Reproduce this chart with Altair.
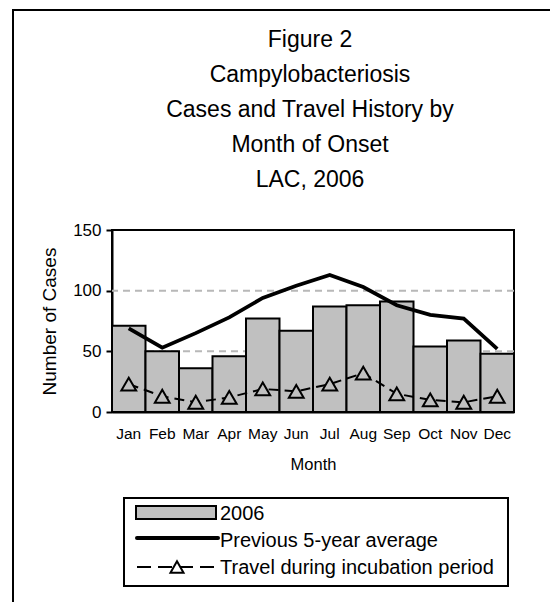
import altair as alt
import pandas as pd

MONTHS = ["Jan", "Feb", "Mar", "Apr", "May", "Jun", "Jul", "Aug", "Sep", "Oct", "Nov", "Dec"]
CASES_2006 = [71, 50, 36, 46, 77, 67, 87, 88, 91, 54, 59, 48]
PREV_5YR_AVG = [69, 53, 65, 78, 94, 104, 113, 103, 88, 80, 77, 52]
TRAVEL = [23, 13, 8, 12, 19, 17, 23, 32, 15, 10, 8, 13]
Y_TICKS = [0, 50, 100, 150]
GRID_VALUES = [50, 100]
TITLE_LINES = ["Figure 2", "Campylobacteriosis", "Cases and Travel History by",
               "Month of Onset", "LAC, 2006"]
LEGEND_LABELS = ["2006", "Previous 5-year average", "Travel during incubation period"]

FONT = "Liberation Sans"
GRAY = "#c0c0c0"

df = pd.DataFrame({"month": MONTHS, "cases": CASES_2006,
                   "avg": PREV_5YR_AVG, "travel": TRAVEL})
grid_df = pd.DataFrame({"v": GRID_VALUES})
one = alt.InlineData(values=[{"k": 0}])

x = alt.X("month:N", sort=MONTHS,
          scale=alt.Scale(paddingInner=0, paddingOuter=0),
          axis=alt.Axis(title="Month", labelAngle=0, ticks=False, tickSize=0,
                        labelPadding=14, titlePadding=15, labelFontSize=15.5,
                        titleFontSize=16.5, titleFontWeight="normal",
                        domainColor="black", domainWidth=2,
                        labelColor="black", titleColor="black"))
y_scale = alt.Scale(domain=[0, 150], nice=False)
y_axis = alt.Axis(title="Number of Cases", values=Y_TICKS, tickSize=6, tickWidth=2,
                  tickColor="black", labelPadding=5, titlePadding=13,
                  labelFontSize=17, titleFontSize=19, titleFontWeight="normal",
                  domainColor="black", domainWidth=2, labelColor="black",
                  titleColor="black", grid=False)

grid = alt.Chart(grid_df).mark_rule(color="#b8b8b8", strokeWidth=2,
                                    strokeDash=[7, 5]).encode(
    y=alt.Y("v:Q", scale=y_scale, axis=y_axis))
bars = alt.Chart(df).mark_bar(fill=GRAY, stroke="black", strokeWidth=2).encode(
    x=x, y=alt.Y("cases:Q", scale=y_scale, axis=y_axis))
avg_line = alt.Chart(df).mark_line(color="black", strokeWidth=3.8).encode(
    x=alt.X("month:N", sort=MONTHS), y=alt.Y("avg:Q"))
travel_line = alt.Chart(df).mark_line(color="black", strokeWidth=2,
                                      strokeDash=[10, 6]).encode(
    x=alt.X("month:N", sort=MONTHS), y=alt.Y("travel:Q"))
travel_pts = alt.Chart(df).mark_point(shape="triangle-up", size=220, filled=True,
                                      fill=GRAY, stroke="black", strokeWidth=2,
                                      opacity=1).encode(
    x=alt.X("month:N", sort=MONTHS), y=alt.Y("travel:Q"))

# outer frame (left and top edges visible)
frame_left = alt.Chart(one).mark_rule(color="black", strokeWidth=2).encode(
    x=alt.value(-99), y=alt.value(-221), y2=alt.value(400))
frame_top = alt.Chart(one).mark_rule(color="black", strokeWidth=2).encode(
    x=alt.value(-100), x2=alt.value(460), y=alt.value(-220))

title = alt.Chart(one).mark_text(font=FONT, fontSize=23, lineHeight=35,
                                 align="center", baseline="alphabetic",
                                 color="black").encode(
    x=alt.value(198), y=alt.value(-183), text=alt.value(TITLE_LINES))

# legend
leg_box = alt.Chart(one).mark_rect(fill="white", stroke="black", strokeWidth=2).encode(
    x=alt.value(12), x2=alt.value(396), y=alt.value(268), y2=alt.value(356))
leg_bar = alt.Chart(one).mark_rect(fill=GRAY, stroke="black", strokeWidth=2).encode(
    x=alt.value(24), x2=alt.value(104), y=alt.value(276), y2=alt.value(289))
leg_line = alt.Chart(one).mark_rule(color="black", strokeWidth=4, strokeCap="round").encode(
    x=alt.value(25), x2=alt.value(106), y=alt.value(308))
leg_dash = alt.Chart(one).mark_rule(color="black", strokeWidth=2, strokeDash=[14, 7]).encode(
    x=alt.value(25), x2=alt.value(106), y=alt.value(337))
leg_tri = alt.Chart(one).mark_point(shape="triangle-up", size=170, filled=True,
                                    fill="white", stroke="black", strokeWidth=2,
                                    opacity=1).encode(
    x=alt.value(65), y=alt.value(337))
leg_texts = [
    alt.Chart(one).mark_text(font=FONT, fontSize=20, align="left",
                             baseline="alphabetic", color="black").encode(
        x=alt.value(108), y=alt.value(290 + 27 * i), text=alt.value(lbl))
    for i, lbl in enumerate(LEGEND_LABELS)
]

chart = alt.layer(
    grid, bars, avg_line, travel_line, travel_pts,
    frame_left, frame_top, title,
    leg_box, leg_bar, leg_line, leg_dash, leg_tri, *leg_texts
).properties(
    width=402, height=182,
    padding={"left": 104, "top": 222, "right": 36, "bottom": 190},
    autosize=alt.AutoSizeParams(type="none"),
).configure(font=FONT).configure_view(stroke="black", strokeWidth=2)

chart.save("out.html", embed_options={"renderer": "svg", "actions": False})
